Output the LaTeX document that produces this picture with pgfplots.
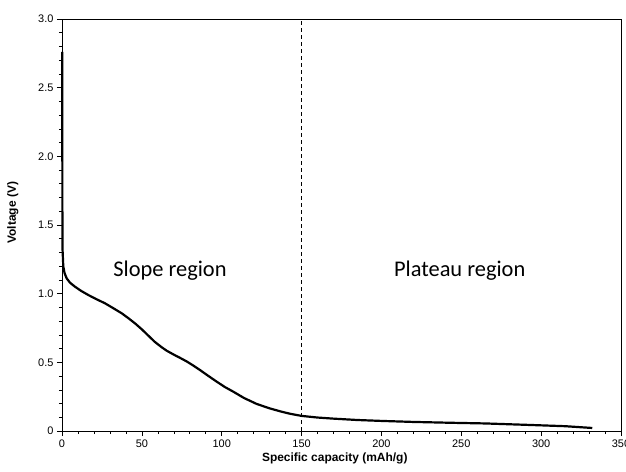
\documentclass[border=0pt]{standalone}
\usepackage{pgfplots}
\pgfplotsset{compat=1.18}
\usepackage{fontspec}
\setmainfont{Liberation Sans}
\newfontfamily\calibri{Carlito}
\begin{document}
\begin{tikzpicture}
\begin{axis}[
  scale only axis, width=559bp, height=412bp,
  at={(0,0)}, anchor=south west,
  xmin=0, xmax=350, ymin=0, ymax=3,
  xtick={0,50,...,350}, ytick={0,0.5,...,3},
  xticklabels={0,50,100,150,200,250,300,350},
  yticklabels={0,0.5,1.0,1.5,2.0,2.5,3.0},
  minor x tick num=4, minor y tick num=4,
  tick align=outside, tick pos=left,
  major tick length=5bp, minor tick length=3bp,
  tick style={black, line width=0.6pt},
  axis line style={line width=0.8pt},
  ticklabel style={font=\fontsize{11}{13}\selectfont},
  /pgf/number format/assume math mode=true,
  xlabel={\bfseries Specific capacity (mAh/g)},
  ylabel={\bfseries Voltage (V)},
  label style={font=\fontsize{12}{14}\selectfont},
  xlabel style={at={(axis description cs:0.488,-0.067)}, anchor=center},
  ylabel style={at={(axis description cs:-0.088,0.53)}, anchor=center},
  clip=false,
]
\addplot[black, line width=2.2bp, line join=round] coordinates {
(0.15,2.76) (0.2,2.2) (0.25,1.6) (0.35,1.32) (0.8,1.2) (1.6,1.15) (2.9,1.112)
(5,1.08) (8.1,1.051) (12,1.02) (16.5,0.99) (21.5,0.96) (26.9,0.93) (32,0.895)
(37.4,0.857) (41.5,0.822) (45.7,0.784) (50,0.74) (54,0.695) (58,0.65)
(62.4,0.61) (65.5,0.585) (70,0.556) (74,0.532) (78,0.507) (82,0.478)
(86.4,0.444) (91.5,0.402) (96.9,0.359) (102,0.32) (107.3,0.286) (114,0.24)
(121.9,0.197) (130,0.165) (137,0.142) (143,0.125) (150,0.11) (160,0.098)
(170,0.09) (185,0.08) (201,0.073) (220,0.066) (243,0.06) (265,0.055)
(293,0.044) (315,0.035) (332,0.022)
};
\addplot[black, line width=0.7bp, dash pattern=on 4bp off 3bp] coordinates {(150,0) (150,3)};
\node[font=\calibri\fontsize{22.5}{24}\selectfont] at (axis cs:67.6,1.17) {Slope region};
\node[font=\calibri\fontsize{22.5}{24}\selectfont] at (axis cs:249,1.17) {Plateau region};
\end{axis}
\pgfresetboundingbox
\useasboundingbox (-62bp,-41bp) rectangle (564bp,431bp);
\end{tikzpicture}
\end{document}
